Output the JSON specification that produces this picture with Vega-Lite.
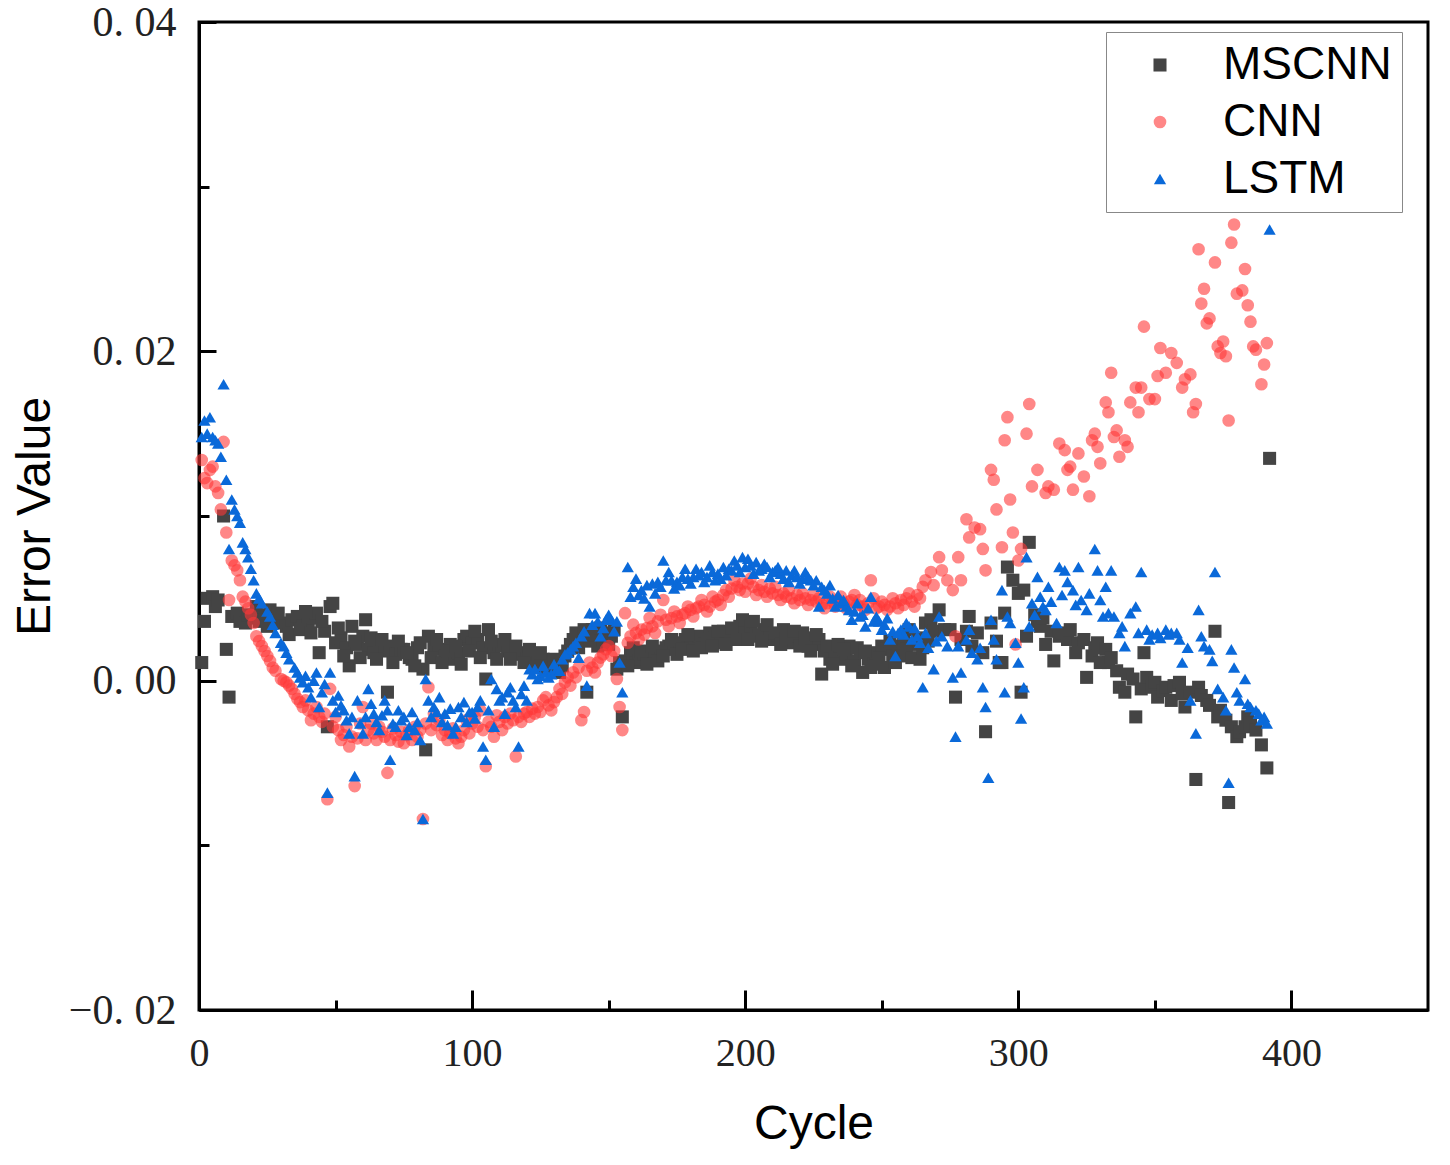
{
  "$schema": "https://vega.github.io/schema/vega-lite/v6.json",
  "description": "error value per cycle for MSCNN, CNN and LSTM",
  "width": 1229,
  "height": 988,
  "autosize": {"type": "none"},
  "padding": {"left": 199, "top": 22, "right": 22, "bottom": 155},
  "background": "white",
  "config": {
    "view": {"stroke": "black", "strokeWidth": 3},
    "axis": {
      "grid": false,
      "domainColor": "black",
      "domainWidth": 3,
      "tickColor": "black",
      "tickWidth": 3,
      "labelFont": "Liberation Serif",
      "labelFontSize": 40,
      "labelColor": "#222222",
      "titleFont": "Liberation Sans",
      "titleFontSize": 48,
      "titleFontWeight": "normal",
      "titleColor": "black"
    }
  },
  "data": {
    "values": [
      {"model": "MSCNN", "cycle": 1, "error": 0.0011},
      {"model": "MSCNN", "cycle": 2, "error": 0.0036},
      {"model": "MSCNN", "cycle": 3, "error": 0.005},
      {"model": "MSCNN", "cycle": 5, "error": 0.0051},
      {"model": "MSCNN", "cycle": 6, "error": 0.0045},
      {"model": "MSCNN", "cycle": 7, "error": 0.0049},
      {"model": "MSCNN", "cycle": 9, "error": 0.01},
      {"model": "MSCNN", "cycle": 10, "error": 0.0019},
      {"model": "MSCNN", "cycle": 11, "error": -0.001},
      {"model": "MSCNN", "cycle": 12, "error": 0.0039},
      {"model": "MSCNN", "cycle": 14, "error": 0.0041},
      {"model": "MSCNN", "cycle": 15, "error": 0.0036},
      {"model": "MSCNN", "cycle": 17, "error": 0.0035},
      {"model": "MSCNN", "cycle": 18, "error": 0.004},
      {"model": "MSCNN", "cycle": 20, "error": 0.0038},
      {"model": "MSCNN", "cycle": 22, "error": 0.0036},
      {"model": "MSCNN", "cycle": 24, "error": 0.004},
      {"model": "MSCNN", "cycle": 26, "error": 0.0043},
      {"model": "MSCNN", "cycle": 28, "error": 0.0037},
      {"model": "MSCNN", "cycle": 30, "error": 0.0035},
      {"model": "MSCNN", "cycle": 32, "error": 0.0033},
      {"model": "MSCNN", "cycle": 34, "error": 0.0037},
      {"model": "MSCNN", "cycle": 36, "error": 0.0039},
      {"model": "MSCNN", "cycle": 38, "error": 0.0033},
      {"model": "MSCNN", "cycle": 40, "error": 0.0036},
      {"model": "MSCNN", "cycle": 42, "error": 0.0038},
      {"model": "MSCNN", "cycle": 43, "error": 0.0041},
      {"model": "MSCNN", "cycle": 44, "error": 0.0017},
      {"model": "MSCNN", "cycle": 46, "error": 0.003},
      {"model": "MSCNN", "cycle": 47, "error": -0.0028},
      {"model": "MSCNN", "cycle": 48, "error": 0.0045},
      {"model": "MSCNN", "cycle": 49, "error": 0.0047},
      {"model": "MSCNN", "cycle": 50, "error": 0.0023},
      {"model": "MSCNN", "cycle": 52, "error": 0.0026},
      {"model": "MSCNN", "cycle": 54, "error": 0.002},
      {"model": "MSCNN", "cycle": 55, "error": 0.0009},
      {"model": "MSCNN", "cycle": 56, "error": 0.0033},
      {"model": "MSCNN", "cycle": 58, "error": 0.0022},
      {"model": "MSCNN", "cycle": 60, "error": 0.0027},
      {"model": "MSCNN", "cycle": 61, "error": 0.0037},
      {"model": "MSCNN", "cycle": 62, "error": 0.0019},
      {"model": "MSCNN", "cycle": 64, "error": 0.0017},
      {"model": "MSCNN", "cycle": 66, "error": 0.0021},
      {"model": "MSCNN", "cycle": 68, "error": 0.0018},
      {"model": "MSCNN", "cycle": 69, "error": -0.0007},
      {"model": "MSCNN", "cycle": 70, "error": 0.0021},
      {"model": "MSCNN", "cycle": 72, "error": 0.0016},
      {"model": "MSCNN", "cycle": 74, "error": 0.0019},
      {"model": "MSCNN", "cycle": 75, "error": 0.0019},
      {"model": "MSCNN", "cycle": 77, "error": 0.0014},
      {"model": "MSCNN", "cycle": 78, "error": 0.0013},
      {"model": "MSCNN", "cycle": 80, "error": 0.002},
      {"model": "MSCNN", "cycle": 82, "error": 0.0007},
      {"model": "MSCNN", "cycle": 83, "error": -0.0042},
      {"model": "MSCNN", "cycle": 84, "error": 0.0027},
      {"model": "MSCNN", "cycle": 86, "error": 0.002},
      {"model": "MSCNN", "cycle": 88, "error": 0.0019},
      {"model": "MSCNN", "cycle": 90, "error": 0.0015},
      {"model": "MSCNN", "cycle": 92, "error": 0.0022},
      {"model": "MSCNN", "cycle": 93, "error": 0.0013},
      {"model": "MSCNN", "cycle": 95, "error": 0.0017},
      {"model": "MSCNN", "cycle": 97, "error": 0.0025},
      {"model": "MSCNN", "cycle": 98, "error": 0.0027},
      {"model": "MSCNN", "cycle": 100, "error": 0.0023},
      {"model": "MSCNN", "cycle": 102, "error": 0.0025},
      {"model": "MSCNN", "cycle": 104, "error": 0.002},
      {"model": "MSCNN", "cycle": 105, "error": 0.0001},
      {"model": "MSCNN", "cycle": 106, "error": 0.0031},
      {"model": "MSCNN", "cycle": 108, "error": 0.0017},
      {"model": "MSCNN", "cycle": 110, "error": 0.0022},
      {"model": "MSCNN", "cycle": 111, "error": 0.0021},
      {"model": "MSCNN", "cycle": 113, "error": 0.0018},
      {"model": "MSCNN", "cycle": 115, "error": 0.0019},
      {"model": "MSCNN", "cycle": 117, "error": 0.0016},
      {"model": "MSCNN", "cycle": 118, "error": 0.0017},
      {"model": "MSCNN", "cycle": 120, "error": 0.0014},
      {"model": "MSCNN", "cycle": 122, "error": 0.0015},
      {"model": "MSCNN", "cycle": 124, "error": 0.0012},
      {"model": "MSCNN", "cycle": 126, "error": 0.0013},
      {"model": "MSCNN", "cycle": 128, "error": 0.001},
      {"model": "MSCNN", "cycle": 129, "error": 0.0011},
      {"model": "MSCNN", "cycle": 131, "error": 0.0007},
      {"model": "MSCNN", "cycle": 132, "error": 0.0005},
      {"model": "MSCNN", "cycle": 134, "error": 0.0015},
      {"model": "MSCNN", "cycle": 136, "error": 0.0022},
      {"model": "MSCNN", "cycle": 138, "error": 0.0029},
      {"model": "MSCNN", "cycle": 140, "error": 0.0027},
      {"model": "MSCNN", "cycle": 142, "error": -0.0007},
      {"model": "MSCNN", "cycle": 144, "error": 0.0031},
      {"model": "MSCNN", "cycle": 146, "error": 0.0021},
      {"model": "MSCNN", "cycle": 148, "error": 0.0025},
      {"model": "MSCNN", "cycle": 149, "error": 0.0029},
      {"model": "MSCNN", "cycle": 151, "error": 0.0027},
      {"model": "MSCNN", "cycle": 153, "error": 0.0007},
      {"model": "MSCNN", "cycle": 155, "error": -0.0022},
      {"model": "MSCNN", "cycle": 156, "error": 0.0012},
      {"model": "MSCNN", "cycle": 158, "error": 0.0017},
      {"model": "MSCNN", "cycle": 160, "error": 0.0011},
      {"model": "MSCNN", "cycle": 161, "error": 0.0013},
      {"model": "MSCNN", "cycle": 163, "error": 0.0016},
      {"model": "MSCNN", "cycle": 165, "error": 0.0013},
      {"model": "MSCNN", "cycle": 167, "error": 0.0018},
      {"model": "MSCNN", "cycle": 169, "error": 0.0017},
      {"model": "MSCNN", "cycle": 171, "error": 0.002},
      {"model": "MSCNN", "cycle": 172, "error": 0.0021},
      {"model": "MSCNN", "cycle": 174, "error": 0.0019},
      {"model": "MSCNN", "cycle": 176, "error": 0.0023},
      {"model": "MSCNN", "cycle": 178, "error": 0.0025},
      {"model": "MSCNN", "cycle": 180, "error": 0.0021},
      {"model": "MSCNN", "cycle": 182, "error": 0.0024},
      {"model": "MSCNN", "cycle": 183, "error": 0.0027},
      {"model": "MSCNN", "cycle": 185, "error": 0.0022},
      {"model": "MSCNN", "cycle": 187, "error": 0.0029},
      {"model": "MSCNN", "cycle": 189, "error": 0.0026},
      {"model": "MSCNN", "cycle": 191, "error": 0.0023},
      {"model": "MSCNN", "cycle": 192, "error": 0.003},
      {"model": "MSCNN", "cycle": 194, "error": 0.0029},
      {"model": "MSCNN", "cycle": 196, "error": 0.0027},
      {"model": "MSCNN", "cycle": 198, "error": 0.0033},
      {"model": "MSCNN", "cycle": 199, "error": 0.0037},
      {"model": "MSCNN", "cycle": 200, "error": 0.0029},
      {"model": "MSCNN", "cycle": 202, "error": 0.0033},
      {"model": "MSCNN", "cycle": 204, "error": 0.0028},
      {"model": "MSCNN", "cycle": 205, "error": 0.0027},
      {"model": "MSCNN", "cycle": 207, "error": 0.0031},
      {"model": "MSCNN", "cycle": 209, "error": 0.0026},
      {"model": "MSCNN", "cycle": 210, "error": 0.0025},
      {"model": "MSCNN", "cycle": 212, "error": 0.0028},
      {"model": "MSCNN", "cycle": 214, "error": 0.0031},
      {"model": "MSCNN", "cycle": 216, "error": 0.0024},
      {"model": "MSCNN", "cycle": 217, "error": 0.0023},
      {"model": "MSCNN", "cycle": 219, "error": 0.0027},
      {"model": "MSCNN", "cycle": 221, "error": 0.0029},
      {"model": "MSCNN", "cycle": 223, "error": 0.0021},
      {"model": "MSCNN", "cycle": 225, "error": 0.0022},
      {"model": "MSCNN", "cycle": 227, "error": 0.0025},
      {"model": "MSCNN", "cycle": 228, "error": 0.0004},
      {"model": "MSCNN", "cycle": 229, "error": 0.0018},
      {"model": "MSCNN", "cycle": 231, "error": 0.0013},
      {"model": "MSCNN", "cycle": 233, "error": 0.0017},
      {"model": "MSCNN", "cycle": 235, "error": 0.0013},
      {"model": "MSCNN", "cycle": 237, "error": 0.0016},
      {"model": "MSCNN", "cycle": 238, "error": 0.0021},
      {"model": "MSCNN", "cycle": 240, "error": 0.0012},
      {"model": "MSCNN", "cycle": 242, "error": 0.0017},
      {"model": "MSCNN", "cycle": 243, "error": 0.0005},
      {"model": "MSCNN", "cycle": 245, "error": 0.0013},
      {"model": "MSCNN", "cycle": 247, "error": 0.001},
      {"model": "MSCNN", "cycle": 248, "error": 0.0017},
      {"model": "MSCNN", "cycle": 250, "error": 0.0021},
      {"model": "MSCNN", "cycle": 252, "error": 0.0019},
      {"model": "MSCNN", "cycle": 254, "error": 0.0015},
      {"model": "MSCNN", "cycle": 256, "error": 0.0021},
      {"model": "MSCNN", "cycle": 258, "error": 0.0025},
      {"model": "MSCNN", "cycle": 260, "error": 0.0031},
      {"model": "MSCNN", "cycle": 262, "error": 0.0022},
      {"model": "MSCNN", "cycle": 264, "error": 0.0013},
      {"model": "MSCNN", "cycle": 266, "error": 0.0035},
      {"model": "MSCNN", "cycle": 268, "error": 0.0037},
      {"model": "MSCNN", "cycle": 269, "error": 0.003},
      {"model": "MSCNN", "cycle": 271, "error": 0.0043},
      {"model": "MSCNN", "cycle": 273, "error": 0.0031},
      {"model": "MSCNN", "cycle": 275, "error": 0.0031},
      {"model": "MSCNN", "cycle": 277, "error": -0.001},
      {"model": "MSCNN", "cycle": 279, "error": 0.0025},
      {"model": "MSCNN", "cycle": 281, "error": 0.003},
      {"model": "MSCNN", "cycle": 282, "error": 0.0039},
      {"model": "MSCNN", "cycle": 283, "error": 0.0021},
      {"model": "MSCNN", "cycle": 285, "error": 0.0029},
      {"model": "MSCNN", "cycle": 287, "error": 0.0017},
      {"model": "MSCNN", "cycle": 288, "error": -0.0031},
      {"model": "MSCNN", "cycle": 290, "error": 0.0035},
      {"model": "MSCNN", "cycle": 292, "error": 0.0024},
      {"model": "MSCNN", "cycle": 293, "error": 0.0011},
      {"model": "MSCNN", "cycle": 294, "error": 0.0011},
      {"model": "MSCNN", "cycle": 295, "error": 0.0041},
      {"model": "MSCNN", "cycle": 296, "error": 0.0069},
      {"model": "MSCNN", "cycle": 298, "error": 0.0061},
      {"model": "MSCNN", "cycle": 300, "error": 0.0053},
      {"model": "MSCNN", "cycle": 301, "error": -0.0007},
      {"model": "MSCNN", "cycle": 302, "error": 0.0055},
      {"model": "MSCNN", "cycle": 303, "error": 0.0027},
      {"model": "MSCNN", "cycle": 304, "error": 0.0084},
      {"model": "MSCNN", "cycle": 306, "error": 0.004},
      {"model": "MSCNN", "cycle": 307, "error": 0.0036},
      {"model": "MSCNN", "cycle": 308, "error": 0.0033},
      {"model": "MSCNN", "cycle": 309, "error": 0.0038},
      {"model": "MSCNN", "cycle": 310, "error": 0.0022},
      {"model": "MSCNN", "cycle": 312, "error": 0.003},
      {"model": "MSCNN", "cycle": 313, "error": 0.0012},
      {"model": "MSCNN", "cycle": 315, "error": 0.0027},
      {"model": "MSCNN", "cycle": 316, "error": 0.0029},
      {"model": "MSCNN", "cycle": 318, "error": 0.0025},
      {"model": "MSCNN", "cycle": 319, "error": 0.0031},
      {"model": "MSCNN", "cycle": 321, "error": 0.0017},
      {"model": "MSCNN", "cycle": 322, "error": 0.0023},
      {"model": "MSCNN", "cycle": 324, "error": 0.0025},
      {"model": "MSCNN", "cycle": 325, "error": 0.0002},
      {"model": "MSCNN", "cycle": 327, "error": 0.0015},
      {"model": "MSCNN", "cycle": 328, "error": 0.002},
      {"model": "MSCNN", "cycle": 329, "error": 0.0023},
      {"model": "MSCNN", "cycle": 330, "error": 0.0011},
      {"model": "MSCNN", "cycle": 332, "error": 0.0019},
      {"model": "MSCNN", "cycle": 333, "error": 0.0011},
      {"model": "MSCNN", "cycle": 334, "error": 0.0014},
      {"model": "MSCNN", "cycle": 336, "error": 0.0006},
      {"model": "MSCNN", "cycle": 337, "error": -0.0004},
      {"model": "MSCNN", "cycle": 339, "error": -0.0007},
      {"model": "MSCNN", "cycle": 340, "error": 0.0004},
      {"model": "MSCNN", "cycle": 342, "error": 0.0001},
      {"model": "MSCNN", "cycle": 343, "error": -0.0022},
      {"model": "MSCNN", "cycle": 345, "error": -0.0005},
      {"model": "MSCNN", "cycle": 346, "error": 0.0017},
      {"model": "MSCNN", "cycle": 347, "error": 0.0002},
      {"model": "MSCNN", "cycle": 349, "error": -0.0004},
      {"model": "MSCNN", "cycle": 350, "error": -0.0001},
      {"model": "MSCNN", "cycle": 351, "error": -0.001},
      {"model": "MSCNN", "cycle": 353, "error": -0.0006},
      {"model": "MSCNN", "cycle": 354, "error": -0.0004},
      {"model": "MSCNN", "cycle": 356, "error": -0.0012},
      {"model": "MSCNN", "cycle": 357, "error": -0.0003},
      {"model": "MSCNN", "cycle": 359, "error": -0.0001},
      {"model": "MSCNN", "cycle": 360, "error": -0.0008},
      {"model": "MSCNN", "cycle": 361, "error": -0.0016},
      {"model": "MSCNN", "cycle": 363, "error": -0.0007},
      {"model": "MSCNN", "cycle": 365, "error": -0.006},
      {"model": "MSCNN", "cycle": 366, "error": -0.0004},
      {"model": "MSCNN", "cycle": 367, "error": -0.0009},
      {"model": "MSCNN", "cycle": 369, "error": -0.0012},
      {"model": "MSCNN", "cycle": 370, "error": -0.0015},
      {"model": "MSCNN", "cycle": 372, "error": 0.003},
      {"model": "MSCNN", "cycle": 373, "error": -0.0022},
      {"model": "MSCNN", "cycle": 374, "error": -0.0018},
      {"model": "MSCNN", "cycle": 376, "error": -0.0024},
      {"model": "MSCNN", "cycle": 377, "error": -0.0074},
      {"model": "MSCNN", "cycle": 378, "error": -0.0028},
      {"model": "MSCNN", "cycle": 380, "error": -0.0034},
      {"model": "MSCNN", "cycle": 381, "error": -0.0031},
      {"model": "MSCNN", "cycle": 383, "error": -0.0028},
      {"model": "MSCNN", "cycle": 384, "error": -0.0022},
      {"model": "MSCNN", "cycle": 385, "error": -0.0026},
      {"model": "MSCNN", "cycle": 387, "error": -0.003},
      {"model": "MSCNN", "cycle": 389, "error": -0.0039},
      {"model": "MSCNN", "cycle": 391, "error": -0.0053},
      {"model": "MSCNN", "cycle": 392, "error": 0.0135},
      {"model": "MSCNN", "cycle": 21, "error": 0.0045},
      {"model": "MSCNN", "cycle": 25, "error": 0.0033},
      {"model": "MSCNN", "cycle": 29, "error": 0.0041},
      {"model": "MSCNN", "cycle": 33, "error": 0.0028},
      {"model": "MSCNN", "cycle": 37, "error": 0.0031},
      {"model": "MSCNN", "cycle": 39, "error": 0.0042},
      {"model": "MSCNN", "cycle": 41, "error": 0.0029},
      {"model": "MSCNN", "cycle": 45, "error": 0.0036},
      {"model": "MSCNN", "cycle": 51, "error": 0.0032},
      {"model": "MSCNN", "cycle": 53, "error": 0.0015},
      {"model": "MSCNN", "cycle": 57, "error": 0.0024},
      {"model": "MSCNN", "cycle": 59, "error": 0.0014},
      {"model": "MSCNN", "cycle": 63, "error": 0.0026},
      {"model": "MSCNN", "cycle": 65, "error": 0.0013},
      {"model": "MSCNN", "cycle": 67, "error": 0.0025},
      {"model": "MSCNN", "cycle": 71, "error": 0.0011},
      {"model": "MSCNN", "cycle": 73, "error": 0.0024},
      {"model": "MSCNN", "cycle": 76, "error": 0.0017},
      {"model": "MSCNN", "cycle": 79, "error": 0.0009},
      {"model": "MSCNN", "cycle": 81, "error": 0.0023},
      {"model": "MSCNN", "cycle": 85, "error": 0.0014},
      {"model": "MSCNN", "cycle": 87, "error": 0.0025},
      {"model": "MSCNN", "cycle": 89, "error": 0.0011},
      {"model": "MSCNN", "cycle": 91, "error": 0.0018},
      {"model": "MSCNN", "cycle": 94, "error": 0.0021},
      {"model": "MSCNN", "cycle": 96, "error": 0.001},
      {"model": "MSCNN", "cycle": 99, "error": 0.0018},
      {"model": "MSCNN", "cycle": 101, "error": 0.003},
      {"model": "MSCNN", "cycle": 103, "error": 0.0014},
      {"model": "MSCNN", "cycle": 107, "error": 0.0024},
      {"model": "MSCNN", "cycle": 109, "error": 0.0013},
      {"model": "MSCNN", "cycle": 112, "error": 0.0025},
      {"model": "MSCNN", "cycle": 114, "error": 0.0013},
      {"model": "MSCNN", "cycle": 116, "error": 0.0021},
      {"model": "MSCNN", "cycle": 119, "error": 0.0011},
      {"model": "MSCNN", "cycle": 121, "error": 0.0019},
      {"model": "MSCNN", "cycle": 123, "error": 0.0008},
      {"model": "MSCNN", "cycle": 125, "error": 0.0017},
      {"model": "MSCNN", "cycle": 127, "error": 0.0006},
      {"model": "MSCNN", "cycle": 130, "error": 0.0013},
      {"model": "MSCNN", "cycle": 133, "error": 0.0009},
      {"model": "MSCNN", "cycle": 135, "error": 0.0018},
      {"model": "MSCNN", "cycle": 137, "error": 0.0025},
      {"model": "MSCNN", "cycle": 139, "error": 0.002},
      {"model": "MSCNN", "cycle": 141, "error": 0.0031},
      {"model": "MSCNN", "cycle": 143, "error": 0.0024},
      {"model": "MSCNN", "cycle": 145, "error": 0.0028},
      {"model": "MSCNN", "cycle": 147, "error": 0.0032},
      {"model": "MSCNN", "cycle": 150, "error": 0.0022},
      {"model": "MSCNN", "cycle": 152, "error": 0.0031},
      {"model": "MSCNN", "cycle": 154, "error": 0.0011},
      {"model": "MSCNN", "cycle": 157, "error": 0.0009},
      {"model": "MSCNN", "cycle": 159, "error": 0.002},
      {"model": "MSCNN", "cycle": 162, "error": 0.0018},
      {"model": "MSCNN", "cycle": 164, "error": 0.001},
      {"model": "MSCNN", "cycle": 166, "error": 0.0021},
      {"model": "MSCNN", "cycle": 168, "error": 0.0012},
      {"model": "MSCNN", "cycle": 170, "error": 0.0015},
      {"model": "MSCNN", "cycle": 173, "error": 0.0025},
      {"model": "MSCNN", "cycle": 175, "error": 0.0016},
      {"model": "MSCNN", "cycle": 177, "error": 0.0019},
      {"model": "MSCNN", "cycle": 179, "error": 0.0028},
      {"model": "MSCNN", "cycle": 181, "error": 0.0018},
      {"model": "MSCNN", "cycle": 184, "error": 0.002},
      {"model": "MSCNN", "cycle": 186, "error": 0.0025},
      {"model": "MSCNN", "cycle": 188, "error": 0.0021},
      {"model": "MSCNN", "cycle": 190, "error": 0.003},
      {"model": "MSCNN", "cycle": 193, "error": 0.0022},
      {"model": "MSCNN", "cycle": 195, "error": 0.0032},
      {"model": "MSCNN", "cycle": 197, "error": 0.0025},
      {"model": "MSCNN", "cycle": 201, "error": 0.0025},
      {"model": "MSCNN", "cycle": 203, "error": 0.0036},
      {"model": "MSCNN", "cycle": 206, "error": 0.0024},
      {"model": "MSCNN", "cycle": 208, "error": 0.0034},
      {"model": "MSCNN", "cycle": 211, "error": 0.0029},
      {"model": "MSCNN", "cycle": 213, "error": 0.0022},
      {"model": "MSCNN", "cycle": 215, "error": 0.0026},
      {"model": "MSCNN", "cycle": 218, "error": 0.003},
      {"model": "MSCNN", "cycle": 220, "error": 0.0021},
      {"model": "MSCNN", "cycle": 222, "error": 0.0026},
      {"model": "MSCNN", "cycle": 224, "error": 0.0018},
      {"model": "MSCNN", "cycle": 226, "error": 0.0028},
      {"model": "MSCNN", "cycle": 230, "error": 0.0021},
      {"model": "MSCNN", "cycle": 232, "error": 0.001},
      {"model": "MSCNN", "cycle": 234, "error": 0.0022},
      {"model": "MSCNN", "cycle": 236, "error": 0.0019},
      {"model": "MSCNN", "cycle": 239, "error": 0.0009},
      {"model": "MSCNN", "cycle": 241, "error": 0.002},
      {"model": "MSCNN", "cycle": 244, "error": 0.0018},
      {"model": "MSCNN", "cycle": 246, "error": 0.0008},
      {"model": "MSCNN", "cycle": 249, "error": 0.0014},
      {"model": "MSCNN", "cycle": 251, "error": 0.0008},
      {"model": "MSCNN", "cycle": 253, "error": 0.0024},
      {"model": "MSCNN", "cycle": 255, "error": 0.0011},
      {"model": "MSCNN", "cycle": 257, "error": 0.0015},
      {"model": "MSCNN", "cycle": 259, "error": 0.0019},
      {"model": "MSCNN", "cycle": 261, "error": 0.0014},
      {"model": "MSCNN", "cycle": 263, "error": 0.0026},
      {"model": "MSCNN", "cycle": 265, "error": 0.002},
      {"model": "MSCNN", "cycle": 267, "error": 0.0024},
      {"model": "CNN", "cycle": 1, "error": 0.0134},
      {"model": "CNN", "cycle": 2, "error": 0.0123},
      {"model": "CNN", "cycle": 3, "error": 0.012},
      {"model": "CNN", "cycle": 4, "error": 0.0128},
      {"model": "CNN", "cycle": 5, "error": 0.013},
      {"model": "CNN", "cycle": 6, "error": 0.0118},
      {"model": "CNN", "cycle": 7, "error": 0.0114},
      {"model": "CNN", "cycle": 8, "error": 0.0104},
      {"model": "CNN", "cycle": 9, "error": 0.0145},
      {"model": "CNN", "cycle": 10, "error": 0.009},
      {"model": "CNN", "cycle": 11, "error": 0.0049},
      {"model": "CNN", "cycle": 12, "error": 0.0073},
      {"model": "CNN", "cycle": 13, "error": 0.007},
      {"model": "CNN", "cycle": 14, "error": 0.0067},
      {"model": "CNN", "cycle": 15, "error": 0.0061},
      {"model": "CNN", "cycle": 16, "error": 0.0051},
      {"model": "CNN", "cycle": 17, "error": 0.0048},
      {"model": "CNN", "cycle": 18, "error": 0.0044},
      {"model": "CNN", "cycle": 19, "error": 0.004},
      {"model": "CNN", "cycle": 20, "error": 0.0035},
      {"model": "CNN", "cycle": 21, "error": 0.0027},
      {"model": "CNN", "cycle": 22, "error": 0.0024},
      {"model": "CNN", "cycle": 23, "error": 0.0021},
      {"model": "CNN", "cycle": 24, "error": 0.0018},
      {"model": "CNN", "cycle": 25, "error": 0.0015},
      {"model": "CNN", "cycle": 26, "error": 0.0012},
      {"model": "CNN", "cycle": 27, "error": 0.0008},
      {"model": "CNN", "cycle": 28, "error": 0.0006},
      {"model": "CNN", "cycle": 30, "error": 0.0001},
      {"model": "CNN", "cycle": 31, "error": 0.0},
      {"model": "CNN", "cycle": 32, "error": -0.0001},
      {"model": "CNN", "cycle": 33, "error": -0.0003},
      {"model": "CNN", "cycle": 34, "error": -0.0005},
      {"model": "CNN", "cycle": 35, "error": -0.0008},
      {"model": "CNN", "cycle": 36, "error": -0.0011},
      {"model": "CNN", "cycle": 37, "error": -0.0013},
      {"model": "CNN", "cycle": 38, "error": -0.0016},
      {"model": "CNN", "cycle": 40, "error": -0.0018},
      {"model": "CNN", "cycle": 42, "error": -0.002},
      {"model": "CNN", "cycle": 44, "error": -0.0022},
      {"model": "CNN", "cycle": 46, "error": -0.002},
      {"model": "CNN", "cycle": 47, "error": -0.0072},
      {"model": "CNN", "cycle": 48, "error": -0.0005},
      {"model": "CNN", "cycle": 49, "error": -0.0028},
      {"model": "CNN", "cycle": 51, "error": -0.003},
      {"model": "CNN", "cycle": 53, "error": -0.0033},
      {"model": "CNN", "cycle": 55, "error": -0.004},
      {"model": "CNN", "cycle": 57, "error": -0.0064},
      {"model": "CNN", "cycle": 58, "error": -0.0035},
      {"model": "CNN", "cycle": 60, "error": -0.0016},
      {"model": "CNN", "cycle": 62, "error": -0.003},
      {"model": "CNN", "cycle": 64, "error": -0.0032},
      {"model": "CNN", "cycle": 66, "error": -0.0028},
      {"model": "CNN", "cycle": 68, "error": -0.0034},
      {"model": "CNN", "cycle": 69, "error": -0.0056},
      {"model": "CNN", "cycle": 70, "error": -0.0036},
      {"model": "CNN", "cycle": 72, "error": -0.0033},
      {"model": "CNN", "cycle": 74, "error": -0.0031},
      {"model": "CNN", "cycle": 75, "error": -0.0038},
      {"model": "CNN", "cycle": 77, "error": -0.003},
      {"model": "CNN", "cycle": 79, "error": -0.0028},
      {"model": "CNN", "cycle": 80, "error": -0.0034},
      {"model": "CNN", "cycle": 82, "error": -0.0084},
      {"model": "CNN", "cycle": 84, "error": -0.0004},
      {"model": "CNN", "cycle": 86, "error": -0.002},
      {"model": "CNN", "cycle": 88, "error": -0.0024},
      {"model": "CNN", "cycle": 90, "error": -0.003},
      {"model": "CNN", "cycle": 92, "error": -0.0032},
      {"model": "CNN", "cycle": 94, "error": -0.0035},
      {"model": "CNN", "cycle": 95, "error": -0.0038},
      {"model": "CNN", "cycle": 97, "error": -0.003},
      {"model": "CNN", "cycle": 98, "error": -0.0024},
      {"model": "CNN", "cycle": 100, "error": -0.0026},
      {"model": "CNN", "cycle": 102, "error": -0.0028},
      {"model": "CNN", "cycle": 103, "error": -0.0018},
      {"model": "CNN", "cycle": 105, "error": -0.0052},
      {"model": "CNN", "cycle": 106, "error": -0.0025},
      {"model": "CNN", "cycle": 108, "error": -0.0034},
      {"model": "CNN", "cycle": 110, "error": -0.0025},
      {"model": "CNN", "cycle": 112, "error": -0.0022},
      {"model": "CNN", "cycle": 114, "error": -0.002},
      {"model": "CNN", "cycle": 116, "error": -0.0046},
      {"model": "CNN", "cycle": 117, "error": -0.0022},
      {"model": "CNN", "cycle": 119, "error": -0.002},
      {"model": "CNN", "cycle": 120, "error": -0.0019},
      {"model": "CNN", "cycle": 122, "error": -0.0017},
      {"model": "CNN", "cycle": 124, "error": -0.0016},
      {"model": "CNN", "cycle": 126, "error": -0.0012},
      {"model": "CNN", "cycle": 127, "error": -0.001},
      {"model": "CNN", "cycle": 129, "error": -0.0018},
      {"model": "CNN", "cycle": 131, "error": -0.001},
      {"model": "CNN", "cycle": 132, "error": -0.0005},
      {"model": "CNN", "cycle": 134, "error": -0.0001},
      {"model": "CNN", "cycle": 135, "error": 0.0002},
      {"model": "CNN", "cycle": 137, "error": 0.0005},
      {"model": "CNN", "cycle": 139, "error": 0.0008},
      {"model": "CNN", "cycle": 140, "error": -0.0024},
      {"model": "CNN", "cycle": 141, "error": -0.0019},
      {"model": "CNN", "cycle": 142, "error": 0.0006},
      {"model": "CNN", "cycle": 144, "error": 0.0008},
      {"model": "CNN", "cycle": 146, "error": 0.0011},
      {"model": "CNN", "cycle": 148, "error": 0.0016},
      {"model": "CNN", "cycle": 149, "error": 0.0019},
      {"model": "CNN", "cycle": 150, "error": 0.0021},
      {"model": "CNN", "cycle": 152, "error": 0.0018},
      {"model": "CNN", "cycle": 153, "error": 0.0001},
      {"model": "CNN", "cycle": 154, "error": -0.0016},
      {"model": "CNN", "cycle": 155, "error": -0.003},
      {"model": "CNN", "cycle": 156, "error": 0.0041},
      {"model": "CNN", "cycle": 157, "error": 0.0023},
      {"model": "CNN", "cycle": 158, "error": 0.0027},
      {"model": "CNN", "cycle": 160, "error": 0.0029},
      {"model": "CNN", "cycle": 162, "error": 0.0031},
      {"model": "CNN", "cycle": 164, "error": 0.0032},
      {"model": "CNN", "cycle": 166, "error": 0.0033},
      {"model": "CNN", "cycle": 168, "error": 0.0036},
      {"model": "CNN", "cycle": 170, "error": 0.0049},
      {"model": "CNN", "cycle": 171, "error": 0.0037},
      {"model": "CNN", "cycle": 173, "error": 0.0038},
      {"model": "CNN", "cycle": 175, "error": 0.0039},
      {"model": "CNN", "cycle": 177, "error": 0.004},
      {"model": "CNN", "cycle": 178, "error": 0.0041},
      {"model": "CNN", "cycle": 180, "error": 0.0043},
      {"model": "CNN", "cycle": 182, "error": 0.0044},
      {"model": "CNN", "cycle": 183, "error": 0.0045},
      {"model": "CNN", "cycle": 185, "error": 0.0046},
      {"model": "CNN", "cycle": 187, "error": 0.0045},
      {"model": "CNN", "cycle": 189, "error": 0.0048},
      {"model": "CNN", "cycle": 190, "error": 0.0049},
      {"model": "CNN", "cycle": 192, "error": 0.0052},
      {"model": "CNN", "cycle": 193, "error": 0.0055},
      {"model": "CNN", "cycle": 195, "error": 0.0056},
      {"model": "CNN", "cycle": 197, "error": 0.0057},
      {"model": "CNN", "cycle": 199, "error": 0.0059},
      {"model": "CNN", "cycle": 200, "error": 0.0054},
      {"model": "CNN", "cycle": 201, "error": 0.0059},
      {"model": "CNN", "cycle": 203, "error": 0.0057},
      {"model": "CNN", "cycle": 205, "error": 0.0055},
      {"model": "CNN", "cycle": 207, "error": 0.0054},
      {"model": "CNN", "cycle": 209, "error": 0.0056},
      {"model": "CNN", "cycle": 210, "error": 0.0053},
      {"model": "CNN", "cycle": 212, "error": 0.0052},
      {"model": "CNN", "cycle": 214, "error": 0.0053},
      {"model": "CNN", "cycle": 215, "error": 0.0051},
      {"model": "CNN", "cycle": 217, "error": 0.005},
      {"model": "CNN", "cycle": 219, "error": 0.0052},
      {"model": "CNN", "cycle": 220, "error": 0.0049},
      {"model": "CNN", "cycle": 222, "error": 0.005},
      {"model": "CNN", "cycle": 224, "error": 0.0049},
      {"model": "CNN", "cycle": 226, "error": 0.0048},
      {"model": "CNN", "cycle": 228, "error": 0.0046},
      {"model": "CNN", "cycle": 230, "error": 0.0047},
      {"model": "CNN", "cycle": 232, "error": 0.0048},
      {"model": "CNN", "cycle": 234, "error": 0.0049},
      {"model": "CNN", "cycle": 236, "error": 0.0047},
      {"model": "CNN", "cycle": 238, "error": 0.0048},
      {"model": "CNN", "cycle": 239, "error": 0.0049},
      {"model": "CNN", "cycle": 241, "error": 0.0046},
      {"model": "CNN", "cycle": 243, "error": 0.0045},
      {"model": "CNN", "cycle": 245, "error": 0.0047},
      {"model": "CNN", "cycle": 246, "error": 0.0061},
      {"model": "CNN", "cycle": 248, "error": 0.0044},
      {"model": "CNN", "cycle": 249, "error": 0.0045},
      {"model": "CNN", "cycle": 251, "error": 0.0046},
      {"model": "CNN", "cycle": 253, "error": 0.0045},
      {"model": "CNN", "cycle": 255, "error": 0.0047},
      {"model": "CNN", "cycle": 257, "error": 0.0049},
      {"model": "CNN", "cycle": 259, "error": 0.005},
      {"model": "CNN", "cycle": 260, "error": 0.0053},
      {"model": "CNN", "cycle": 262, "error": 0.0045},
      {"model": "CNN", "cycle": 263, "error": 0.0052},
      {"model": "CNN", "cycle": 265, "error": 0.0057},
      {"model": "CNN", "cycle": 266, "error": 0.0061},
      {"model": "CNN", "cycle": 268, "error": 0.0066},
      {"model": "CNN", "cycle": 269, "error": 0.0058},
      {"model": "CNN", "cycle": 271, "error": 0.0075},
      {"model": "CNN", "cycle": 272, "error": 0.0067},
      {"model": "CNN", "cycle": 274, "error": 0.0061},
      {"model": "CNN", "cycle": 276, "error": 0.0055},
      {"model": "CNN", "cycle": 277, "error": 0.0027},
      {"model": "CNN", "cycle": 278, "error": 0.0075},
      {"model": "CNN", "cycle": 279, "error": 0.0061},
      {"model": "CNN", "cycle": 281, "error": 0.0098},
      {"model": "CNN", "cycle": 282, "error": 0.0087},
      {"model": "CNN", "cycle": 284, "error": 0.0093},
      {"model": "CNN", "cycle": 286, "error": 0.0092},
      {"model": "CNN", "cycle": 287, "error": 0.008},
      {"model": "CNN", "cycle": 288, "error": 0.0067},
      {"model": "CNN", "cycle": 290, "error": 0.0128},
      {"model": "CNN", "cycle": 291, "error": 0.0122},
      {"model": "CNN", "cycle": 292, "error": 0.0104},
      {"model": "CNN", "cycle": 294, "error": 0.0081},
      {"model": "CNN", "cycle": 295, "error": 0.0146},
      {"model": "CNN", "cycle": 296, "error": 0.016},
      {"model": "CNN", "cycle": 297, "error": 0.011},
      {"model": "CNN", "cycle": 298, "error": 0.009},
      {"model": "CNN", "cycle": 299, "error": 0.0022},
      {"model": "CNN", "cycle": 300, "error": 0.0073},
      {"model": "CNN", "cycle": 301, "error": 0.008},
      {"model": "CNN", "cycle": 303, "error": 0.015},
      {"model": "CNN", "cycle": 304, "error": 0.0168},
      {"model": "CNN", "cycle": 305, "error": 0.0118},
      {"model": "CNN", "cycle": 307, "error": 0.0128},
      {"model": "CNN", "cycle": 310, "error": 0.0114},
      {"model": "CNN", "cycle": 311, "error": 0.0118},
      {"model": "CNN", "cycle": 313, "error": 0.0116},
      {"model": "CNN", "cycle": 315, "error": 0.0144},
      {"model": "CNN", "cycle": 317, "error": 0.014},
      {"model": "CNN", "cycle": 318, "error": 0.0128},
      {"model": "CNN", "cycle": 319, "error": 0.013},
      {"model": "CNN", "cycle": 320, "error": 0.0116},
      {"model": "CNN", "cycle": 322, "error": 0.0138},
      {"model": "CNN", "cycle": 324, "error": 0.0124},
      {"model": "CNN", "cycle": 326, "error": 0.0112},
      {"model": "CNN", "cycle": 327, "error": 0.0146},
      {"model": "CNN", "cycle": 328, "error": 0.015},
      {"model": "CNN", "cycle": 329, "error": 0.0142},
      {"model": "CNN", "cycle": 330, "error": 0.0132},
      {"model": "CNN", "cycle": 332, "error": 0.0169},
      {"model": "CNN", "cycle": 333, "error": 0.0163},
      {"model": "CNN", "cycle": 334, "error": 0.0187},
      {"model": "CNN", "cycle": 335, "error": 0.0148},
      {"model": "CNN", "cycle": 336, "error": 0.0152},
      {"model": "CNN", "cycle": 337, "error": 0.0136},
      {"model": "CNN", "cycle": 339, "error": 0.0146},
      {"model": "CNN", "cycle": 340, "error": 0.0142},
      {"model": "CNN", "cycle": 341, "error": 0.0169},
      {"model": "CNN", "cycle": 343, "error": 0.0178},
      {"model": "CNN", "cycle": 344, "error": 0.0163},
      {"model": "CNN", "cycle": 345, "error": 0.0178},
      {"model": "CNN", "cycle": 346, "error": 0.0215},
      {"model": "CNN", "cycle": 348, "error": 0.0171},
      {"model": "CNN", "cycle": 350, "error": 0.0171},
      {"model": "CNN", "cycle": 351, "error": 0.0185},
      {"model": "CNN", "cycle": 352, "error": 0.0202},
      {"model": "CNN", "cycle": 354, "error": 0.0187},
      {"model": "CNN", "cycle": 356, "error": 0.0199},
      {"model": "CNN", "cycle": 358, "error": 0.0193},
      {"model": "CNN", "cycle": 360, "error": 0.0178},
      {"model": "CNN", "cycle": 361, "error": 0.0183},
      {"model": "CNN", "cycle": 363, "error": 0.0186},
      {"model": "CNN", "cycle": 364, "error": 0.0163},
      {"model": "CNN", "cycle": 365, "error": 0.0168},
      {"model": "CNN", "cycle": 366, "error": 0.0262},
      {"model": "CNN", "cycle": 367, "error": 0.0229},
      {"model": "CNN", "cycle": 368, "error": 0.0238},
      {"model": "CNN", "cycle": 369, "error": 0.0217},
      {"model": "CNN", "cycle": 370, "error": 0.022},
      {"model": "CNN", "cycle": 372, "error": 0.0254},
      {"model": "CNN", "cycle": 373, "error": 0.0203},
      {"model": "CNN", "cycle": 374, "error": 0.0199},
      {"model": "CNN", "cycle": 375, "error": 0.0206},
      {"model": "CNN", "cycle": 376, "error": 0.0197},
      {"model": "CNN", "cycle": 377, "error": 0.0158},
      {"model": "CNN", "cycle": 378, "error": 0.0266},
      {"model": "CNN", "cycle": 379, "error": 0.0277},
      {"model": "CNN", "cycle": 380, "error": 0.0235},
      {"model": "CNN", "cycle": 382, "error": 0.0237},
      {"model": "CNN", "cycle": 383, "error": 0.025},
      {"model": "CNN", "cycle": 384, "error": 0.0228},
      {"model": "CNN", "cycle": 385, "error": 0.0218},
      {"model": "CNN", "cycle": 386, "error": 0.0203},
      {"model": "CNN", "cycle": 387, "error": 0.0201},
      {"model": "CNN", "cycle": 389, "error": 0.018},
      {"model": "CNN", "cycle": 390, "error": 0.0192},
      {"model": "CNN", "cycle": 391, "error": 0.0205},
      {"model": "CNN", "cycle": 39, "error": -0.0012},
      {"model": "CNN", "cycle": 41, "error": -0.0024},
      {"model": "CNN", "cycle": 43, "error": -0.0016},
      {"model": "CNN", "cycle": 45, "error": -0.0025},
      {"model": "CNN", "cycle": 50, "error": -0.0022},
      {"model": "CNN", "cycle": 52, "error": -0.0036},
      {"model": "CNN", "cycle": 54, "error": -0.0028},
      {"model": "CNN", "cycle": 56, "error": -0.0034},
      {"model": "CNN", "cycle": 59, "error": -0.0026},
      {"model": "CNN", "cycle": 61, "error": -0.0036},
      {"model": "CNN", "cycle": 63, "error": -0.0026},
      {"model": "CNN", "cycle": 65, "error": -0.0036},
      {"model": "CNN", "cycle": 67, "error": -0.0031},
      {"model": "CNN", "cycle": 71, "error": -0.0029},
      {"model": "CNN", "cycle": 73, "error": -0.0037},
      {"model": "CNN", "cycle": 76, "error": -0.0033},
      {"model": "CNN", "cycle": 78, "error": -0.0036},
      {"model": "CNN", "cycle": 81, "error": -0.003},
      {"model": "CNN", "cycle": 83, "error": -0.0026},
      {"model": "CNN", "cycle": 85, "error": -0.003},
      {"model": "CNN", "cycle": 87, "error": -0.0027},
      {"model": "CNN", "cycle": 89, "error": -0.0033},
      {"model": "CNN", "cycle": 91, "error": -0.0036},
      {"model": "CNN", "cycle": 93, "error": -0.0029},
      {"model": "CNN", "cycle": 96, "error": -0.0034},
      {"model": "CNN", "cycle": 99, "error": -0.0032},
      {"model": "CNN", "cycle": 101, "error": -0.0022},
      {"model": "CNN", "cycle": 104, "error": -0.003},
      {"model": "CNN", "cycle": 107, "error": -0.0028},
      {"model": "CNN", "cycle": 109, "error": -0.0021},
      {"model": "CNN", "cycle": 111, "error": -0.003},
      {"model": "CNN", "cycle": 113, "error": -0.0026},
      {"model": "CNN", "cycle": 115, "error": -0.0024},
      {"model": "CNN", "cycle": 118, "error": -0.0025},
      {"model": "CNN", "cycle": 121, "error": -0.0022},
      {"model": "CNN", "cycle": 123, "error": -0.002},
      {"model": "CNN", "cycle": 125, "error": -0.0019},
      {"model": "CNN", "cycle": 128, "error": -0.0015},
      {"model": "CNN", "cycle": 130, "error": -0.0013},
      {"model": "CNN", "cycle": 133, "error": -0.0008},
      {"model": "CNN", "cycle": 136, "error": -0.0003},
      {"model": "CNN", "cycle": 138, "error": 0.0002},
      {"model": "CNN", "cycle": 143, "error": 0.0011},
      {"model": "CNN", "cycle": 145, "error": 0.0005},
      {"model": "CNN", "cycle": 147, "error": 0.0014},
      {"model": "CNN", "cycle": 151, "error": 0.0015},
      {"model": "CNN", "cycle": 159, "error": 0.0034},
      {"model": "CNN", "cycle": 161, "error": 0.0025},
      {"model": "CNN", "cycle": 163, "error": 0.0028},
      {"model": "CNN", "cycle": 165, "error": 0.0038},
      {"model": "CNN", "cycle": 167, "error": 0.0029},
      {"model": "CNN", "cycle": 169, "error": 0.004},
      {"model": "CNN", "cycle": 172, "error": 0.0033},
      {"model": "CNN", "cycle": 174, "error": 0.0042},
      {"model": "CNN", "cycle": 176, "error": 0.0035},
      {"model": "CNN", "cycle": 179, "error": 0.0045},
      {"model": "CNN", "cycle": 181, "error": 0.0039},
      {"model": "CNN", "cycle": 184, "error": 0.0049},
      {"model": "CNN", "cycle": 186, "error": 0.0042},
      {"model": "CNN", "cycle": 188, "error": 0.0051},
      {"model": "CNN", "cycle": 191, "error": 0.0046},
      {"model": "CNN", "cycle": 194, "error": 0.0051},
      {"model": "CNN", "cycle": 196, "error": 0.0061},
      {"model": "CNN", "cycle": 198, "error": 0.0055},
      {"model": "CNN", "cycle": 202, "error": 0.0062},
      {"model": "CNN", "cycle": 204, "error": 0.0052},
      {"model": "CNN", "cycle": 206, "error": 0.0058},
      {"model": "CNN", "cycle": 208, "error": 0.0051},
      {"model": "CNN", "cycle": 211, "error": 0.0057},
      {"model": "CNN", "cycle": 213, "error": 0.0049},
      {"model": "CNN", "cycle": 216, "error": 0.0055},
      {"model": "CNN", "cycle": 218, "error": 0.0047},
      {"model": "CNN", "cycle": 221, "error": 0.0053},
      {"model": "CNN", "cycle": 223, "error": 0.0046},
      {"model": "CNN", "cycle": 225, "error": 0.0052},
      {"model": "CNN", "cycle": 227, "error": 0.005},
      {"model": "CNN", "cycle": 229, "error": 0.0044},
      {"model": "CNN", "cycle": 231, "error": 0.0051},
      {"model": "CNN", "cycle": 233, "error": 0.0045},
      {"model": "CNN", "cycle": 235, "error": 0.0051},
      {"model": "CNN", "cycle": 237, "error": 0.0044},
      {"model": "CNN", "cycle": 240, "error": 0.0052},
      {"model": "CNN", "cycle": 242, "error": 0.0049},
      {"model": "CNN", "cycle": 244, "error": 0.0043},
      {"model": "CNN", "cycle": 247, "error": 0.005},
      {"model": "CNN", "cycle": 250, "error": 0.0048},
      {"model": "CNN", "cycle": 252, "error": 0.0043},
      {"model": "CNN", "cycle": 254, "error": 0.005},
      {"model": "CNN", "cycle": 256, "error": 0.0044},
      {"model": "CNN", "cycle": 258, "error": 0.0046},
      {"model": "CNN", "cycle": 261, "error": 0.0048},
      {"model": "CNN", "cycle": 264, "error": 0.005},
      {"model": "LSTM", "cycle": 1, "error": 0.0148},
      {"model": "LSTM", "cycle": 2, "error": 0.0158},
      {"model": "LSTM", "cycle": 3, "error": 0.015},
      {"model": "LSTM", "cycle": 4, "error": 0.016},
      {"model": "LSTM", "cycle": 5, "error": 0.0148},
      {"model": "LSTM", "cycle": 6, "error": 0.0146},
      {"model": "LSTM", "cycle": 7, "error": 0.0144},
      {"model": "LSTM", "cycle": 8, "error": 0.0136},
      {"model": "LSTM", "cycle": 9, "error": 0.018},
      {"model": "LSTM", "cycle": 10, "error": 0.0122},
      {"model": "LSTM", "cycle": 11, "error": 0.008},
      {"model": "LSTM", "cycle": 12, "error": 0.011},
      {"model": "LSTM", "cycle": 13, "error": 0.0104},
      {"model": "LSTM", "cycle": 14, "error": 0.01},
      {"model": "LSTM", "cycle": 15, "error": 0.0096},
      {"model": "LSTM", "cycle": 16, "error": 0.0084},
      {"model": "LSTM", "cycle": 17, "error": 0.008},
      {"model": "LSTM", "cycle": 18, "error": 0.0075},
      {"model": "LSTM", "cycle": 19, "error": 0.0068},
      {"model": "LSTM", "cycle": 20, "error": 0.0061},
      {"model": "LSTM", "cycle": 21, "error": 0.0053},
      {"model": "LSTM", "cycle": 22, "error": 0.005},
      {"model": "LSTM", "cycle": 23, "error": 0.0047},
      {"model": "LSTM", "cycle": 25, "error": 0.0042},
      {"model": "LSTM", "cycle": 26, "error": 0.0039},
      {"model": "LSTM", "cycle": 27, "error": 0.0034},
      {"model": "LSTM", "cycle": 28, "error": 0.0029},
      {"model": "LSTM", "cycle": 30, "error": 0.0023},
      {"model": "LSTM", "cycle": 31, "error": 0.0021},
      {"model": "LSTM", "cycle": 32, "error": 0.0017},
      {"model": "LSTM", "cycle": 33, "error": 0.0013},
      {"model": "LSTM", "cycle": 35, "error": 0.0008},
      {"model": "LSTM", "cycle": 36, "error": 0.0005},
      {"model": "LSTM", "cycle": 37, "error": 0.0002},
      {"model": "LSTM", "cycle": 38, "error": -0.0001},
      {"model": "LSTM", "cycle": 40, "error": -0.0004},
      {"model": "LSTM", "cycle": 42, "error": 0.0},
      {"model": "LSTM", "cycle": 43, "error": 0.0005},
      {"model": "LSTM", "cycle": 44, "error": -0.0016},
      {"model": "LSTM", "cycle": 45, "error": -0.0007},
      {"model": "LSTM", "cycle": 47, "error": -0.0068},
      {"model": "LSTM", "cycle": 48, "error": 0.0005},
      {"model": "LSTM", "cycle": 49, "error": -0.0012},
      {"model": "LSTM", "cycle": 50, "error": -0.0019},
      {"model": "LSTM", "cycle": 52, "error": -0.0015},
      {"model": "LSTM", "cycle": 53, "error": -0.0018},
      {"model": "LSTM", "cycle": 55, "error": -0.0032},
      {"model": "LSTM", "cycle": 56, "error": -0.0022},
      {"model": "LSTM", "cycle": 57, "error": -0.0058},
      {"model": "LSTM", "cycle": 58, "error": -0.0012},
      {"model": "LSTM", "cycle": 60, "error": -0.0032},
      {"model": "LSTM", "cycle": 61, "error": -0.0022},
      {"model": "LSTM", "cycle": 62, "error": -0.0005},
      {"model": "LSTM", "cycle": 64, "error": -0.002},
      {"model": "LSTM", "cycle": 65, "error": -0.0025},
      {"model": "LSTM", "cycle": 67, "error": -0.0021},
      {"model": "LSTM", "cycle": 69, "error": -0.0018},
      {"model": "LSTM", "cycle": 70, "error": -0.0048},
      {"model": "LSTM", "cycle": 71, "error": -0.0026},
      {"model": "LSTM", "cycle": 72, "error": -0.0028},
      {"model": "LSTM", "cycle": 74, "error": -0.0024},
      {"model": "LSTM", "cycle": 75, "error": -0.0022},
      {"model": "LSTM", "cycle": 77, "error": -0.0028},
      {"model": "LSTM", "cycle": 79, "error": -0.003},
      {"model": "LSTM", "cycle": 81, "error": -0.0036},
      {"model": "LSTM", "cycle": 82, "error": -0.0084},
      {"model": "LSTM", "cycle": 83, "error": 0.0001},
      {"model": "LSTM", "cycle": 84, "error": -0.0012},
      {"model": "LSTM", "cycle": 86, "error": -0.0016},
      {"model": "LSTM", "cycle": 87, "error": -0.0019},
      {"model": "LSTM", "cycle": 89, "error": -0.0025},
      {"model": "LSTM", "cycle": 91, "error": -0.0027},
      {"model": "LSTM", "cycle": 93, "error": -0.0032},
      {"model": "LSTM", "cycle": 95, "error": -0.0016},
      {"model": "LSTM", "cycle": 97, "error": -0.0013},
      {"model": "LSTM", "cycle": 98, "error": -0.0025},
      {"model": "LSTM", "cycle": 99, "error": -0.0019},
      {"model": "LSTM", "cycle": 100, "error": -0.0019},
      {"model": "LSTM", "cycle": 102, "error": -0.0016},
      {"model": "LSTM", "cycle": 103, "error": -0.0012},
      {"model": "LSTM", "cycle": 104, "error": -0.004},
      {"model": "LSTM", "cycle": 105, "error": -0.0048},
      {"model": "LSTM", "cycle": 107, "error": 0.0001},
      {"model": "LSTM", "cycle": 108, "error": -0.0028},
      {"model": "LSTM", "cycle": 110, "error": -0.0012},
      {"model": "LSTM", "cycle": 111, "error": -0.001},
      {"model": "LSTM", "cycle": 113, "error": -0.0007},
      {"model": "LSTM", "cycle": 115, "error": -0.0012},
      {"model": "LSTM", "cycle": 116, "error": -0.0016},
      {"model": "LSTM", "cycle": 117, "error": -0.004},
      {"model": "LSTM", "cycle": 118, "error": -0.0008},
      {"model": "LSTM", "cycle": 120, "error": -0.0012},
      {"model": "LSTM", "cycle": 121, "error": 0.0007},
      {"model": "LSTM", "cycle": 122, "error": 0.0004},
      {"model": "LSTM", "cycle": 123, "error": 0.0007},
      {"model": "LSTM", "cycle": 125, "error": 0.0003},
      {"model": "LSTM", "cycle": 127, "error": 0.0005},
      {"model": "LSTM", "cycle": 129, "error": 0.0004},
      {"model": "LSTM", "cycle": 131, "error": 0.0007},
      {"model": "LSTM", "cycle": 133, "error": 0.0013},
      {"model": "LSTM", "cycle": 135, "error": 0.0017},
      {"model": "LSTM", "cycle": 136, "error": 0.0019},
      {"model": "LSTM", "cycle": 138, "error": 0.0023},
      {"model": "LSTM", "cycle": 140, "error": 0.0027},
      {"model": "LSTM", "cycle": 142, "error": -0.0003},
      {"model": "LSTM", "cycle": 143, "error": 0.0041},
      {"model": "LSTM", "cycle": 145, "error": 0.0041},
      {"model": "LSTM", "cycle": 147, "error": 0.0027},
      {"model": "LSTM", "cycle": 149, "error": 0.0037},
      {"model": "LSTM", "cycle": 151, "error": 0.0037},
      {"model": "LSTM", "cycle": 152, "error": 0.003},
      {"model": "LSTM", "cycle": 154, "error": 0.0011},
      {"model": "LSTM", "cycle": 155, "error": -0.0007},
      {"model": "LSTM", "cycle": 157, "error": 0.0069},
      {"model": "LSTM", "cycle": 158, "error": 0.0051},
      {"model": "LSTM", "cycle": 159, "error": 0.0057},
      {"model": "LSTM", "cycle": 161, "error": 0.0052},
      {"model": "LSTM", "cycle": 162, "error": 0.0055},
      {"model": "LSTM", "cycle": 164, "error": 0.0058},
      {"model": "LSTM", "cycle": 165, "error": 0.0045},
      {"model": "LSTM", "cycle": 166, "error": 0.0059},
      {"model": "LSTM", "cycle": 168, "error": 0.006},
      {"model": "LSTM", "cycle": 170, "error": 0.0073},
      {"model": "LSTM", "cycle": 171, "error": 0.0061},
      {"model": "LSTM", "cycle": 173, "error": 0.0061},
      {"model": "LSTM", "cycle": 175, "error": 0.006},
      {"model": "LSTM", "cycle": 177, "error": 0.0063},
      {"model": "LSTM", "cycle": 179, "error": 0.0062},
      {"model": "LSTM", "cycle": 181, "error": 0.0063},
      {"model": "LSTM", "cycle": 183, "error": 0.0064},
      {"model": "LSTM", "cycle": 184, "error": 0.0066},
      {"model": "LSTM", "cycle": 186, "error": 0.0063},
      {"model": "LSTM", "cycle": 188, "error": 0.0066},
      {"model": "LSTM", "cycle": 190, "error": 0.0065},
      {"model": "LSTM", "cycle": 192, "error": 0.0069},
      {"model": "LSTM", "cycle": 194, "error": 0.0068},
      {"model": "LSTM", "cycle": 195, "error": 0.0067},
      {"model": "LSTM", "cycle": 197, "error": 0.007},
      {"model": "LSTM", "cycle": 199, "error": 0.0075},
      {"model": "LSTM", "cycle": 200, "error": 0.0069},
      {"model": "LSTM", "cycle": 202, "error": 0.007},
      {"model": "LSTM", "cycle": 204, "error": 0.0072},
      {"model": "LSTM", "cycle": 206, "error": 0.0068},
      {"model": "LSTM", "cycle": 208, "error": 0.0069},
      {"model": "LSTM", "cycle": 210, "error": 0.0066},
      {"model": "LSTM", "cycle": 211, "error": 0.0067},
      {"model": "LSTM", "cycle": 213, "error": 0.0065},
      {"model": "LSTM", "cycle": 215, "error": 0.0067},
      {"model": "LSTM", "cycle": 217, "error": 0.0064},
      {"model": "LSTM", "cycle": 219, "error": 0.0063},
      {"model": "LSTM", "cycle": 221, "error": 0.0062},
      {"model": "LSTM", "cycle": 222, "error": 0.0066},
      {"model": "LSTM", "cycle": 224, "error": 0.0061},
      {"model": "LSTM", "cycle": 226, "error": 0.0061},
      {"model": "LSTM", "cycle": 227, "error": 0.0045},
      {"model": "LSTM", "cycle": 228, "error": 0.0057},
      {"model": "LSTM", "cycle": 230, "error": 0.0053},
      {"model": "LSTM", "cycle": 232, "error": 0.005},
      {"model": "LSTM", "cycle": 233, "error": 0.0045},
      {"model": "LSTM", "cycle": 235, "error": 0.0047},
      {"model": "LSTM", "cycle": 237, "error": 0.0045},
      {"model": "LSTM", "cycle": 239, "error": 0.0037},
      {"model": "LSTM", "cycle": 240, "error": 0.0042},
      {"model": "LSTM", "cycle": 242, "error": 0.0039},
      {"model": "LSTM", "cycle": 244, "error": 0.0033},
      {"model": "LSTM", "cycle": 246, "error": 0.0051},
      {"model": "LSTM", "cycle": 247, "error": 0.0036},
      {"model": "LSTM", "cycle": 248, "error": 0.0039},
      {"model": "LSTM", "cycle": 250, "error": 0.0031},
      {"model": "LSTM", "cycle": 251, "error": 0.0034},
      {"model": "LSTM", "cycle": 253, "error": 0.0025},
      {"model": "LSTM", "cycle": 254, "error": 0.003},
      {"model": "LSTM", "cycle": 255, "error": 0.0015},
      {"model": "LSTM", "cycle": 257, "error": 0.0031},
      {"model": "LSTM", "cycle": 258, "error": 0.0028},
      {"model": "LSTM", "cycle": 260, "error": 0.0033},
      {"model": "LSTM", "cycle": 261, "error": 0.0025},
      {"model": "LSTM", "cycle": 263, "error": 0.0027},
      {"model": "LSTM", "cycle": 265, "error": -0.0004},
      {"model": "LSTM", "cycle": 266, "error": 0.0029},
      {"model": "LSTM", "cycle": 267, "error": 0.002},
      {"model": "LSTM", "cycle": 269, "error": 0.0007},
      {"model": "LSTM", "cycle": 270, "error": 0.0024},
      {"model": "LSTM", "cycle": 271, "error": 0.0039},
      {"model": "LSTM", "cycle": 272, "error": 0.0027},
      {"model": "LSTM", "cycle": 274, "error": 0.0021},
      {"model": "LSTM", "cycle": 276, "error": 0.0002},
      {"model": "LSTM", "cycle": 277, "error": -0.0034},
      {"model": "LSTM", "cycle": 278, "error": 0.0021},
      {"model": "LSTM", "cycle": 279, "error": 0.0005},
      {"model": "LSTM", "cycle": 281, "error": 0.0025},
      {"model": "LSTM", "cycle": 282, "error": 0.0031},
      {"model": "LSTM", "cycle": 283, "error": 0.0017},
      {"model": "LSTM", "cycle": 285, "error": 0.0013},
      {"model": "LSTM", "cycle": 286, "error": 0.002},
      {"model": "LSTM", "cycle": 287, "error": -0.0004},
      {"model": "LSTM", "cycle": 288, "error": -0.0016},
      {"model": "LSTM", "cycle": 289, "error": -0.0059},
      {"model": "LSTM", "cycle": 290, "error": 0.0037},
      {"model": "LSTM", "cycle": 291, "error": 0.0025},
      {"model": "LSTM", "cycle": 292, "error": 0.0013},
      {"model": "LSTM", "cycle": 294, "error": 0.0055},
      {"model": "LSTM", "cycle": 295, "error": -0.0007},
      {"model": "LSTM", "cycle": 296, "error": 0.0039},
      {"model": "LSTM", "cycle": 297, "error": 0.0035},
      {"model": "LSTM", "cycle": 299, "error": 0.0023},
      {"model": "LSTM", "cycle": 300, "error": 0.0011},
      {"model": "LSTM", "cycle": 301, "error": -0.0023},
      {"model": "LSTM", "cycle": 302, "error": -0.0004},
      {"model": "LSTM", "cycle": 303, "error": 0.0075},
      {"model": "LSTM", "cycle": 304, "error": 0.0033},
      {"model": "LSTM", "cycle": 305, "error": 0.0047},
      {"model": "LSTM", "cycle": 306, "error": 0.004},
      {"model": "LSTM", "cycle": 307, "error": 0.0063},
      {"model": "LSTM", "cycle": 308, "error": 0.0051},
      {"model": "LSTM", "cycle": 309, "error": 0.0045},
      {"model": "LSTM", "cycle": 310, "error": 0.0043},
      {"model": "LSTM", "cycle": 311, "error": 0.0057},
      {"model": "LSTM", "cycle": 312, "error": 0.0048},
      {"model": "LSTM", "cycle": 314, "error": 0.0035},
      {"model": "LSTM", "cycle": 315, "error": 0.0069},
      {"model": "LSTM", "cycle": 316, "error": 0.0052},
      {"model": "LSTM", "cycle": 317, "error": 0.0067},
      {"model": "LSTM", "cycle": 318, "error": 0.006},
      {"model": "LSTM", "cycle": 320, "error": 0.0055},
      {"model": "LSTM", "cycle": 321, "error": 0.0046},
      {"model": "LSTM", "cycle": 322, "error": 0.0069},
      {"model": "LSTM", "cycle": 323, "error": 0.0049},
      {"model": "LSTM", "cycle": 325, "error": 0.0043},
      {"model": "LSTM", "cycle": 326, "error": 0.0053},
      {"model": "LSTM", "cycle": 328, "error": 0.008},
      {"model": "LSTM", "cycle": 329, "error": 0.0067},
      {"model": "LSTM", "cycle": 330, "error": 0.0049},
      {"model": "LSTM", "cycle": 331, "error": 0.0039},
      {"model": "LSTM", "cycle": 332, "error": 0.0057},
      {"model": "LSTM", "cycle": 333, "error": 0.0041},
      {"model": "LSTM", "cycle": 334, "error": 0.0067},
      {"model": "LSTM", "cycle": 335, "error": 0.0039},
      {"model": "LSTM", "cycle": 337, "error": 0.0029},
      {"model": "LSTM", "cycle": 338, "error": 0.0033},
      {"model": "LSTM", "cycle": 339, "error": 0.0021},
      {"model": "LSTM", "cycle": 341, "error": 0.0041},
      {"model": "LSTM", "cycle": 343, "error": 0.0045},
      {"model": "LSTM", "cycle": 344, "error": 0.0029},
      {"model": "LSTM", "cycle": 345, "error": 0.0066},
      {"model": "LSTM", "cycle": 347, "error": 0.0031},
      {"model": "LSTM", "cycle": 348, "error": 0.0025},
      {"model": "LSTM", "cycle": 349, "error": 0.0028},
      {"model": "LSTM", "cycle": 351, "error": 0.0029},
      {"model": "LSTM", "cycle": 352, "error": 0.0026},
      {"model": "LSTM", "cycle": 354, "error": 0.0031},
      {"model": "LSTM", "cycle": 355, "error": 0.0028},
      {"model": "LSTM", "cycle": 356, "error": 0.0029},
      {"model": "LSTM", "cycle": 358, "error": 0.0029},
      {"model": "LSTM", "cycle": 359, "error": 0.0025},
      {"model": "LSTM", "cycle": 360, "error": 0.0011},
      {"model": "LSTM", "cycle": 362, "error": 0.002},
      {"model": "LSTM", "cycle": 363, "error": -0.0012},
      {"model": "LSTM", "cycle": 365, "error": -0.0032},
      {"model": "LSTM", "cycle": 366, "error": 0.0043},
      {"model": "LSTM", "cycle": 367, "error": 0.0027},
      {"model": "LSTM", "cycle": 368, "error": 0.0021},
      {"model": "LSTM", "cycle": 370, "error": 0.0019},
      {"model": "LSTM", "cycle": 371, "error": 0.0012},
      {"model": "LSTM", "cycle": 372, "error": 0.0066},
      {"model": "LSTM", "cycle": 373, "error": -0.0005},
      {"model": "LSTM", "cycle": 375, "error": -0.001},
      {"model": "LSTM", "cycle": 376, "error": -0.0018},
      {"model": "LSTM", "cycle": 377, "error": -0.0062},
      {"model": "LSTM", "cycle": 378, "error": 0.0019},
      {"model": "LSTM", "cycle": 379, "error": 0.0008},
      {"model": "LSTM", "cycle": 380, "error": -0.0007},
      {"model": "LSTM", "cycle": 381, "error": -0.0012},
      {"model": "LSTM", "cycle": 383, "error": 0.0001},
      {"model": "LSTM", "cycle": 384, "error": -0.0014},
      {"model": "LSTM", "cycle": 385, "error": -0.0016},
      {"model": "LSTM", "cycle": 387, "error": -0.0018},
      {"model": "LSTM", "cycle": 388, "error": -0.002},
      {"model": "LSTM", "cycle": 389, "error": -0.0024},
      {"model": "LSTM", "cycle": 390, "error": -0.0022},
      {"model": "LSTM", "cycle": 391, "error": -0.0026},
      {"model": "LSTM", "cycle": 392, "error": 0.0274},
      {"model": "LSTM", "cycle": 39, "error": 0.0003},
      {"model": "LSTM", "cycle": 41, "error": -0.001},
      {"model": "LSTM", "cycle": 46, "error": -0.0002},
      {"model": "LSTM", "cycle": 51, "error": -0.0009},
      {"model": "LSTM", "cycle": 54, "error": -0.0024},
      {"model": "LSTM", "cycle": 59, "error": -0.0026},
      {"model": "LSTM", "cycle": 63, "error": -0.0014},
      {"model": "LSTM", "cycle": 66, "error": -0.003},
      {"model": "LSTM", "cycle": 68, "error": -0.0012},
      {"model": "LSTM", "cycle": 73, "error": -0.0018},
      {"model": "LSTM", "cycle": 76, "error": -0.0033},
      {"model": "LSTM", "cycle": 78, "error": -0.0019},
      {"model": "LSTM", "cycle": 80, "error": -0.0025},
      {"model": "LSTM", "cycle": 85, "error": -0.0022},
      {"model": "LSTM", "cycle": 88, "error": -0.001},
      {"model": "LSTM", "cycle": 90, "error": -0.002},
      {"model": "LSTM", "cycle": 92, "error": -0.0017},
      {"model": "LSTM", "cycle": 94, "error": -0.0028},
      {"model": "LSTM", "cycle": 96, "error": -0.0022},
      {"model": "LSTM", "cycle": 101, "error": -0.0023},
      {"model": "LSTM", "cycle": 106, "error": -0.0018},
      {"model": "LSTM", "cycle": 109, "error": -0.0005},
      {"model": "LSTM", "cycle": 112, "error": -0.002},
      {"model": "LSTM", "cycle": 114, "error": -0.0004},
      {"model": "LSTM", "cycle": 119, "error": -0.0003},
      {"model": "LSTM", "cycle": 124, "error": 0.0001},
      {"model": "LSTM", "cycle": 126, "error": 0.0009},
      {"model": "LSTM", "cycle": 128, "error": 0.0002},
      {"model": "LSTM", "cycle": 130, "error": 0.001},
      {"model": "LSTM", "cycle": 132, "error": 0.0006},
      {"model": "LSTM", "cycle": 134, "error": 0.0016},
      {"model": "LSTM", "cycle": 137, "error": 0.0021},
      {"model": "LSTM", "cycle": 139, "error": 0.0014},
      {"model": "LSTM", "cycle": 141, "error": 0.003},
      {"model": "LSTM", "cycle": 144, "error": 0.0034},
      {"model": "LSTM", "cycle": 146, "error": 0.0036},
      {"model": "LSTM", "cycle": 148, "error": 0.0032},
      {"model": "LSTM", "cycle": 150, "error": 0.004},
      {"model": "LSTM", "cycle": 153, "error": 0.0036},
      {"model": "LSTM", "cycle": 160, "error": 0.0062},
      {"model": "LSTM", "cycle": 163, "error": 0.005},
      {"model": "LSTM", "cycle": 167, "error": 0.0053},
      {"model": "LSTM", "cycle": 169, "error": 0.0057},
      {"model": "LSTM", "cycle": 172, "error": 0.0066},
      {"model": "LSTM", "cycle": 174, "error": 0.0056},
      {"model": "LSTM", "cycle": 176, "error": 0.0058},
      {"model": "LSTM", "cycle": 178, "error": 0.0068},
      {"model": "LSTM", "cycle": 180, "error": 0.0059},
      {"model": "LSTM", "cycle": 182, "error": 0.0068},
      {"model": "LSTM", "cycle": 185, "error": 0.006},
      {"model": "LSTM", "cycle": 187, "error": 0.007},
      {"model": "LSTM", "cycle": 189, "error": 0.0061},
      {"model": "LSTM", "cycle": 191, "error": 0.0062},
      {"model": "LSTM", "cycle": 193, "error": 0.0064},
      {"model": "LSTM", "cycle": 196, "error": 0.0073},
      {"model": "LSTM", "cycle": 198, "error": 0.0066},
      {"model": "LSTM", "cycle": 201, "error": 0.0074},
      {"model": "LSTM", "cycle": 203, "error": 0.0065},
      {"model": "LSTM", "cycle": 205, "error": 0.0067},
      {"model": "LSTM", "cycle": 207, "error": 0.0071},
      {"model": "LSTM", "cycle": 209, "error": 0.0063},
      {"model": "LSTM", "cycle": 212, "error": 0.0069},
      {"model": "LSTM", "cycle": 214, "error": 0.0062},
      {"model": "LSTM", "cycle": 216, "error": 0.006},
      {"model": "LSTM", "cycle": 218, "error": 0.0067},
      {"model": "LSTM", "cycle": 220, "error": 0.0059},
      {"model": "LSTM", "cycle": 223, "error": 0.0063},
      {"model": "LSTM", "cycle": 225, "error": 0.0058},
      {"model": "LSTM", "cycle": 229, "error": 0.0055},
      {"model": "LSTM", "cycle": 231, "error": 0.0058},
      {"model": "LSTM", "cycle": 234, "error": 0.0052},
      {"model": "LSTM", "cycle": 236, "error": 0.0049},
      {"model": "LSTM", "cycle": 238, "error": 0.0043},
      {"model": "LSTM", "cycle": 241, "error": 0.0047},
      {"model": "LSTM", "cycle": 243, "error": 0.004},
      {"model": "LSTM", "cycle": 245, "error": 0.0044},
      {"model": "LSTM", "cycle": 249, "error": 0.0036},
      {"model": "LSTM", "cycle": 252, "error": 0.0038},
      {"model": "LSTM", "cycle": 256, "error": 0.0029},
      {"model": "LSTM", "cycle": 259, "error": 0.0035},
      {"model": "LSTM", "cycle": 262, "error": 0.0032},
      {"model": "LSTM", "cycle": 264, "error": 0.0023}
    ]
  },
  "layer": [
    {
      "mark": {"type": "point", "opacity": 0},
      "encoding": {
        "x": {
          "field": "cycle",
          "type": "quantitative",
          "scale": {"domain": [0, 450], "nice": false},
          "axis": {
            "orient": "bottom",
            "values": [50, 150, 250, 350],
            "labels": false,
            "domain": false,
            "tickSize": -10,
            "title": null
          }
        },
        "y": {
          "field": "error",
          "type": "quantitative",
          "scale": {"domain": [-0.02, 0.04], "nice": false, "zero": false},
          "axis": {
            "orient": "left",
            "values": [-0.01, 0.01, 0.03],
            "labels": false,
            "domain": false,
            "tickSize": -10,
            "title": null
          }
        }
      }
    },
    {
      "mark": {"type": "point", "filled": true, "strokeWidth": 0, "opacity": 1},
      "encoding": {
        "x": {
          "field": "cycle",
          "type": "quantitative",
          "title": "Cycle",
          "scale": {"domain": [0, 450], "nice": false},
          "axis": {
            "orient": "bottom",
            "values": [0, 100, 200, 300, 400],
            "tickSize": -20,
            "labelPadding": 43,
            "labelFlush": false,
            "titleY": 128,
            "titleBaseline": "alphabetic"
          }
        },
        "y": {
          "field": "error",
          "type": "quantitative",
          "title": "Error Value",
          "scale": {"domain": [-0.02, 0.04], "nice": false, "zero": false},
          "axis": {
            "orient": "left",
            "values": [-0.02, 0, 0.02, 0.04],
            "labelExpr": "replace(format(datum.value, '.2f'), '.', '. ')",
            "labelFontSize": 42,
            "tickSize": -17,
            "labelPadding": 40,
            "labelFlush": false,
            "titleX": -164,
            "titleY": 494,
            "titleBaseline": "middle"
          }
        },
        "shape": {
          "field": "model",
          "type": "nominal",
          "scale": {"domain": ["MSCNN", "CNN", "LSTM"], "range": ["square", "circle", "triangle-up"]},
          "legend": {"title": null}
        },
        "size": {
          "field": "model",
          "type": "nominal",
          "scale": {"domain": ["MSCNN", "CNN", "LSTM"], "range": [170, 150, 250]},
          "legend": {"title": null}
        },
        "color": {
          "field": "model",
          "type": "nominal",
          "scale": {"domain": ["MSCNN", "CNN", "LSTM"], "range": ["#444444", "rgba(255, 55, 55, 0.6)", "#0a69d9"]},
          "legend": {
            "title": null,
            "orient": "none",
            "legendX": 907,
            "legendY": 10,
            "padding": 10,
            "symbolOffset": 21,
            "labelOffset": 40,
            "labelLimit": 400,
            "rowPadding": 11,
            "labelFont": "Liberation Sans",
            "labelFontSize": 46,
            "labelColor": "black",
            "strokeColor": "#888888",
            "fillColor": "white",
            "symbolStrokeWidth": 0,
            "symbolOpacity": 1
          }
        }
      }
    }
  ],
  "resolve": {"axis": {"x": "independent", "y": "independent"}}
}
